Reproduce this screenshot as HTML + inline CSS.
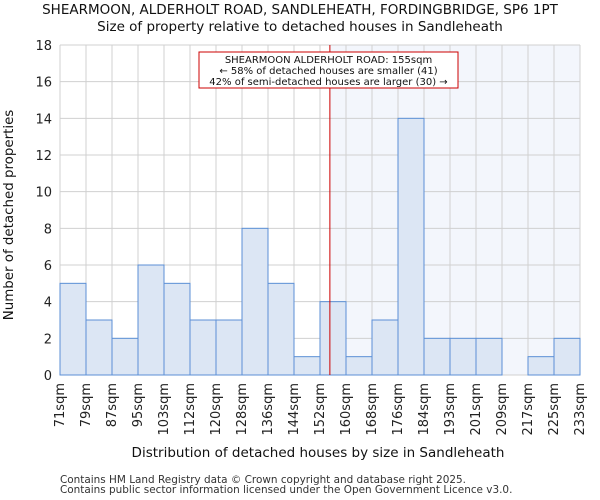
<!DOCTYPE html>
<html><head><meta charset="utf-8"><style>body{margin:0;background:#fff}svg{display:block;font-family:"DejaVu Sans","Liberation Sans",sans-serif}</style></head>
<body>
<svg id="c" width="600" height="500"></svg>
<script>
const categories=["71sqm","79sqm","87sqm","95sqm","103sqm","112sqm","120sqm","128sqm","136sqm","144sqm","152sqm","160sqm","168sqm","176sqm","184sqm","193sqm","201sqm","209sqm","217sqm","225sqm","233sqm"];
const counts=[5,3,2,6,5,3,3,8,5,1,4,1,3,14,2,2,2,0,1,2];
const yTicks=[0,2,4,6,8,10,12,14,16,18];
const markerBin=10.38;
const L=60,R=580,T=45,B=375,YMAX=18;
const n=counts.length,bw=(R-L)/n;
const x=i=>L+i*bw, y=v=>B-(v/YMAX)*(B-T);
const svg=document.getElementById('c');const NS='http://www.w3.org/2000/svg';
function mk(t,a,txt){const e=document.createElementNS(NS,t);for(const k in a)e.setAttribute(k,a[k]);if(txt!=null)e.textContent=txt;svg.appendChild(e);return e;}
let e;
e=mk('rect',{x:x(markerBin),y:T,width:R-x(markerBin),height:B-T,fill:'#f3f6fc'});


yTicks.forEach(v=>{e=mk('line',{x1:L,x2:R,y1:y(v),y2:y(v),stroke:'#d0d0d0'});


e=mk('text',{x:L-8,y:y(v)+5,'text-anchor':'end','font-size':13,fill:'#222'},v);

});
for(let i=0;i<=n;i++){e=mk('line',{x1:x(i),x2:x(i),y1:T,y2:B,stroke:'#d0d0d0'});

}
counts.forEach((v,i)=>{e=mk('rect',{x:x(i),y:y(v),width:bw,height:B-y(v),fill:'#dce6f4',stroke:'#5b8fd6','stroke-width':1});

});
categories.forEach((c,i)=>{const tx=x(i)+4,ty=B+8;e=mk('text',{x:tx,y:ty,transform:`rotate(-90 ${tx} ${ty})`,'text-anchor':'end','font-size':13,fill:'#222'},c);

});
e=mk('line',{x1:x(markerBin),x2:x(markerBin),y1:T,y2:B,stroke:'#cc0000','stroke-width':1});


e=mk('rect',{x:199,y:52,width:259,height:36,fill:'#fff',stroke:'#cc0000'});


["SHEARMOON ALDERHOLT ROAD: 155sqm","← 58% of detached houses are smaller (41)","42% of semi-detached houses are larger (30) →"].forEach((s,i)=>{e=mk('text',{x:328.5,y:63+i*11,'text-anchor':'middle','font-size':10,fill:'#111'},s);

});
e=mk('text',{x:300,y:14,'text-anchor':'middle','font-size':13.5,fill:'#111'},"SHEARMOON, ALDERHOLT ROAD, SANDLEHEATH, FORDINGBRIDGE, SP6 1PT");


e=mk('text',{x:300,y:31,'text-anchor':'middle','font-size':13.5,fill:'#111'},"Size of property relative to detached houses in Sandleheath");


e=mk('text',{x:318,y:457,'text-anchor':'middle','font-size':13.5,fill:'#111'},"Distribution of detached houses by size in Sandleheath");


e=mk('text',{x:13,y:215,transform:'rotate(-90 13 215)','text-anchor':'middle','font-size':13.4,fill:'#111'},"Number of detached properties");


e=mk('text',{x:60,y:483,'font-size':10.45,fill:'#333'},"Contains HM Land Registry data © Crown copyright and database right 2025.");


e=mk('text',{x:60,y:493,'font-size':10.45,fill:'#333'},"Contains public sector information licensed under the Open Government Licence v3.0.");


</script>
</body></html>
